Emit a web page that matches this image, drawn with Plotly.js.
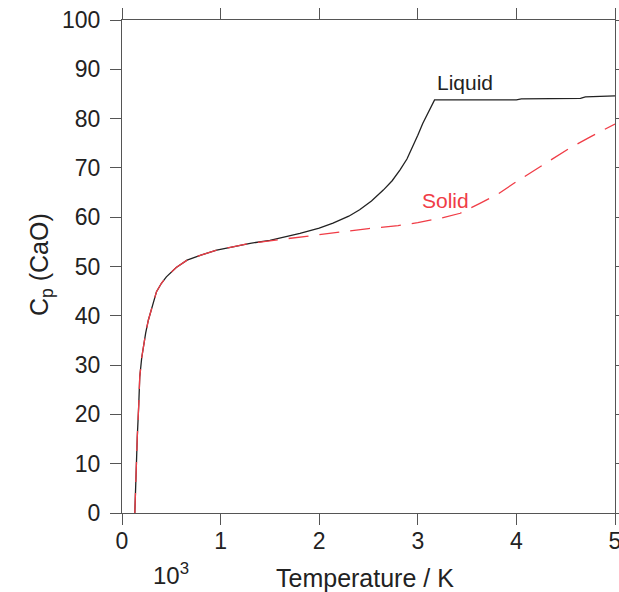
<!DOCTYPE html>
<html>
<head>
<meta charset="utf-8">
<script src="https://cdn.plot.ly/plotly-3.0.1.min.js"></script>
<style>html,body{margin:0;padding:0;background:#fff;}#chart{width:619px;height:592px;}</style>
</head>
<body>
<div id="chart"></div>
<script>
// Temperature in 10^3 K, Cp of CaO
const liquidT = [0.13,0.14,0.155,0.17,0.18,0.2,0.216,0.24,0.267,0.3,0.35,0.4,0.45,0.55,0.66,0.8,0.96,1.1,1.3,1.5,1.805,2.0,2.14,2.3,2.41,2.53,2.65,2.74,2.82,2.89,2.95,3.0,3.05,3.11,3.17,3.5,4.0,4.05,4.65,4.7,5.0];
const liquidCp = [0,8,15.4,22,27.6,31.5,33.7,36.5,39.1,41.5,44.9,46.6,47.9,49.8,51.3,52.3,53.3,53.9,54.7,55.3,56.7,57.8,58.8,60.2,61.5,63.3,65.5,67.4,69.6,71.8,74.3,76.6,79,81.3,83.8,83.8,83.8,84.0,84.1,84.4,84.6];
const solidT = [0.13,0.14,0.155,0.17,0.18,0.2,0.216,0.24,0.267,0.3,0.35,0.4,0.45,0.55,0.66,0.8,0.96,1.1,1.3,1.5,1.7,1.94,2.2,2.5,2.8,3.0,3.23,3.43,3.63,3.82,4.0,4.19,4.37,4.54,4.75,4.93,5.0];
const solidCp = [0,8,15.4,22,27.6,31.5,33.7,36.5,39.1,41.5,44.9,46.6,47.9,49.8,51.3,52.3,53.3,53.9,54.7,55.2,55.7,56.3,57.0,57.7,58.3,58.9,59.8,60.8,62.8,64.8,67.2,69.6,71.9,74.0,76.3,78.2,78.9];
const xTicks = [0,1,2,3,4,5];
const yTicks = [0,10,20,30,40,50,60,70,80,90,100];

const FONT = 'Liberation Sans, Arial, Helvetica, sans-serif';
const axisCommon = {
  showgrid:false, zeroline:false, showline:true, linecolor:'#555', linewidth:1,
  ticks:'outside', ticklen:11, tickcolor:'#555', tickwidth:1, mirror:'ticks',
  ticklabeloverflow:'allow',
  tickfont:{family:FONT, size:23, color:'#222'}
};

const traces = [
  {x:liquidT, y:liquidCp, mode:'lines', line:{color:'#222', width:1.3}, hoverinfo:'skip'},
  {x:solidT, y:solidCp, mode:'lines', line:{color:'#f03c46', width:1.3, dash:'20px,11px'}, hoverinfo:'skip'}
];

const W = 619, H = 592, L = 122, R = 4, T = 20, B = 79;
const pw = W - L - R, ph = H - T - B;
const px = p => (p - L) / pw;          // pixel x -> paper x
const py = p => (H - B - p) / ph;      // pixel y -> paper y

const layout = {
  width:W, height:H,
  margin:{l:L, r:R, t:T, b:B},
  paper_bgcolor:'#fff', plot_bgcolor:'#fff',
  showlegend:false,
  font:{family:FONT, color:'#222'},
  xaxis:Object.assign({}, axisCommon, {range:[0,5], tickvals:xTicks, ticktext:xTicks.map(String), ticklabelstandoff:-4}),
  yaxis:Object.assign({}, axisCommon, {range:[0,100], tickvals:yTicks, ticktext:yTicks.map(String), ticklabelstandoff:5}),
  annotations:[
    {x:3.48, y:87.4, xref:'x', yref:'y', xanchor:'center', yanchor:'middle', text:'Liquid', showarrow:false, font:{size:21, color:'#222'}},
    {x:3.28, y:63.4, xref:'x', yref:'y', xanchor:'center', yanchor:'middle', text:'Solid', showarrow:false, font:{size:21, color:'#f03c46'}},
    {x:px(171), y:py(574), xref:'paper', yref:'paper', xanchor:'center', yanchor:'middle', text:'10<sup>3</sup>', showarrow:false, font:{size:24, color:'#222'}},
    {x:px(365), y:py(578), xref:'paper', yref:'paper', xanchor:'center', yanchor:'middle', text:'Temperature / K', showarrow:false, font:{size:25, color:'#222'}},
    {x:px(41), y:py(265), xref:'paper', yref:'paper', xanchor:'center', yanchor:'middle', text:'C<sub>p</sub> (CaO)', textangle:-90, showarrow:false, font:{size:25, color:'#222'}}
  ]
};

Plotly.newPlot('chart', traces, layout, {staticPlot:true, displayModeBar:false});
</script>
</body>
</html>
